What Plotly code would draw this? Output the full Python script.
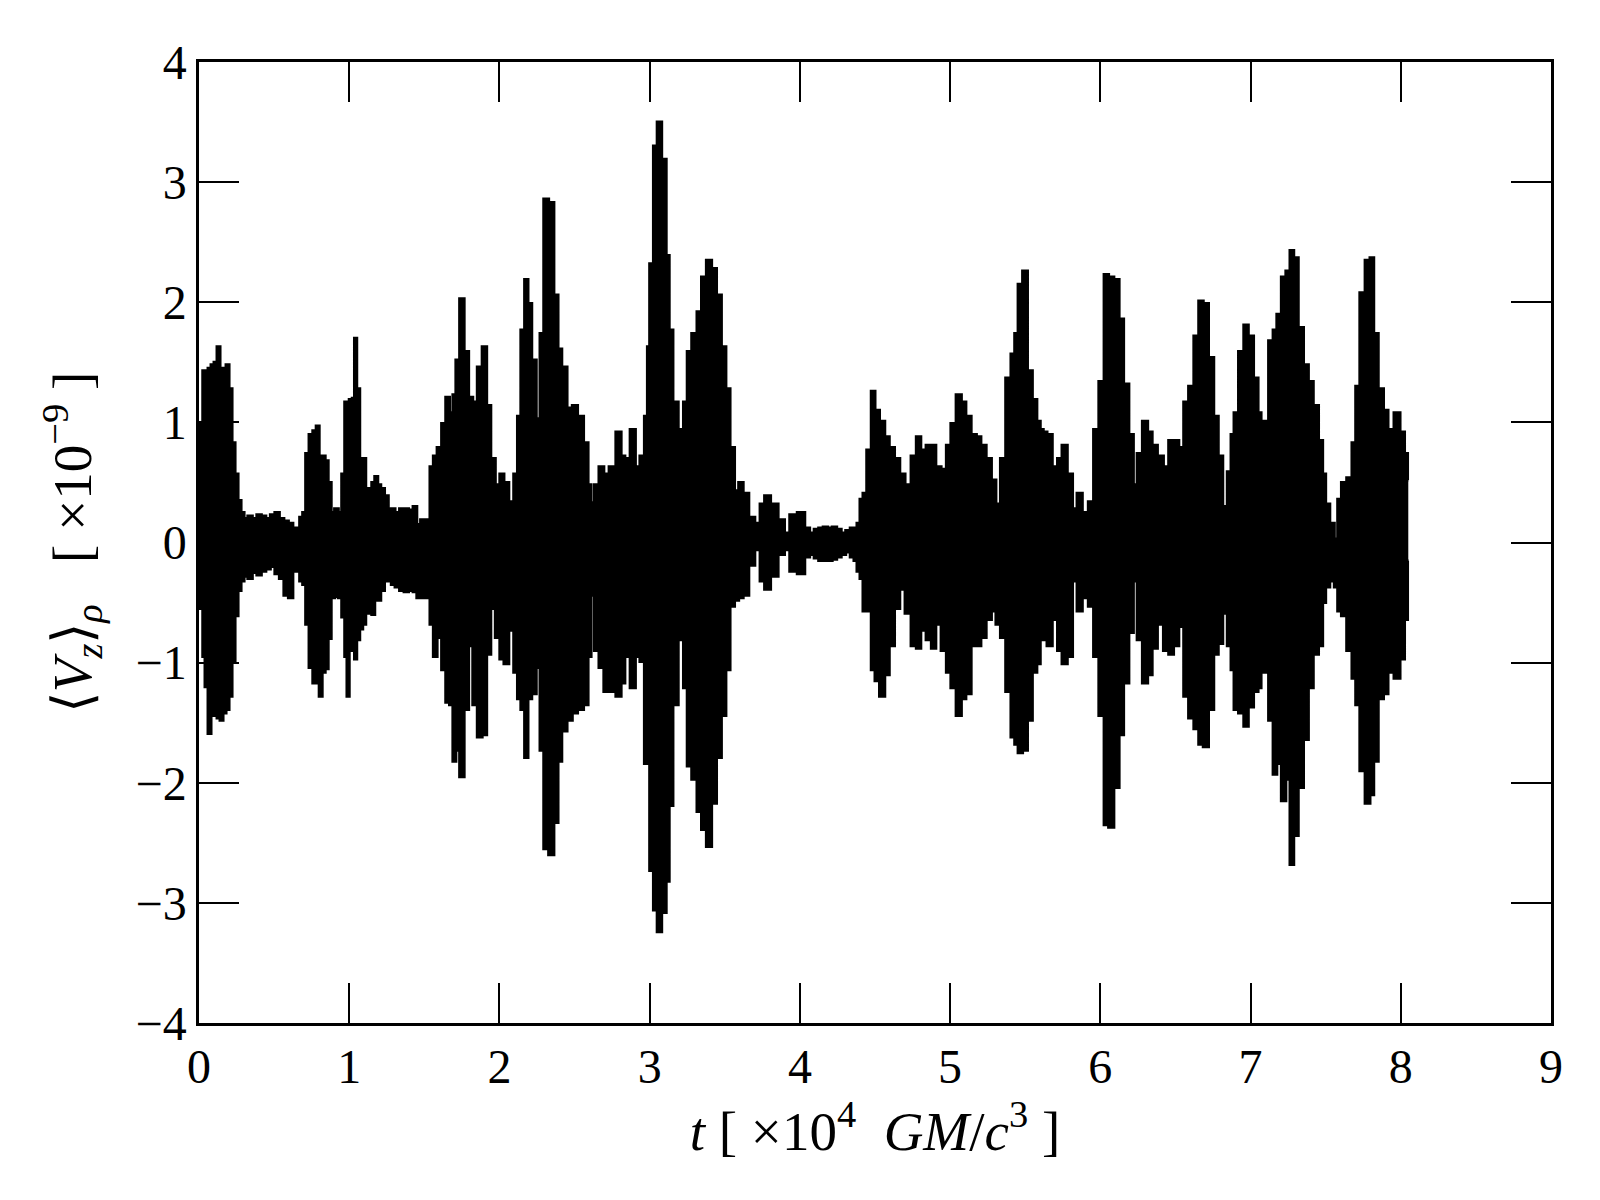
import plotly.graph_objects as go

# time in units of 1e4 GM/c^3; envelope of <V_z>_rho in units of 1e-9
t_vals = [
    0.00, 0.02, 0.03, 0.05, 0.07, 0.09, 0.11, 0.13, 0.15, 0.17, 0.19, 0.21, 0.23, 0.25, 0.27, 0.29,
    0.31, 0.34, 0.37, 0.40, 0.43, 0.46, 0.49, 0.52, 0.55, 0.58, 0.61, 0.64, 0.66, 0.68, 0.70,
    0.72, 0.745, 0.77, 0.79, 0.81, 0.83, 0.85, 0.87, 0.89, 0.915, 0.94, 0.96, 0.98, 0.99,
    1.01, 1.03, 1.04, 1.06, 1.08, 1.10, 1.12, 1.14, 1.16, 1.18, 1.20, 1.22, 1.25, 1.27, 1.29,
    1.32, 1.35, 1.38, 1.41, 1.44, 1.46, 1.49, 1.525, 1.55, 1.57, 1.60, 1.63, 1.655, 1.68, 1.70,
    1.72, 1.75, 1.78, 1.81, 1.835, 1.87, 1.90, 1.93, 1.955, 1.99, 2.015, 2.045, 2.08, 2.11, 2.13,
    2.155, 2.18, 2.20, 2.23, 2.26, 2.28, 2.31, 2.345, 2.38, 2.40, 2.43, 2.47, 2.50, 2.54, 2.58,
    2.60, 2.62, 2.645, 2.68, 2.71, 2.75, 2.80, 2.82, 2.85, 2.89, 2.92, 2.95, 2.98, 2.99, 3.01,
    3.04, 3.06, 3.10, 3.12, 3.14, 3.17, 3.21, 3.24, 3.26, 3.30, 3.33, 3.36, 3.395, 3.43, 3.46,
    3.495, 3.52, 3.55, 3.58, 3.605, 3.64, 3.68, 3.72, 3.75, 3.78, 3.83, 3.88, 3.915, 3.95, 4.015,
    4.05, 4.08, 4.11, 4.14, 4.17, 4.20, 4.23, 4.26, 4.29, 4.32, 4.35, 4.37, 4.39, 4.41, 4.43,
    4.46, 4.49, 4.51, 4.55, 4.58, 4.61, 4.65, 4.68, 4.72, 4.76, 4.79, 4.82, 4.86, 4.89, 4.92,
    4.96, 4.99, 5.02, 5.06, 5.09, 5.12, 5.16, 5.19, 5.22, 5.26, 5.29, 5.32, 5.35, 5.39, 5.42,
    5.44, 5.465, 5.50, 5.53, 5.565, 5.59, 5.61, 5.63, 5.66, 5.70, 5.73, 5.76, 5.80, 5.83, 5.86,
    5.90, 5.94, 5.97, 6.01, 6.04, 6.07, 6.11, 6.14, 6.17, 6.21, 6.23, 6.26, 6.30, 6.33, 6.36,
    6.40, 6.44, 6.47, 6.505, 6.54, 6.57, 6.605, 6.64, 6.67, 6.70, 6.74, 6.77, 6.80, 6.83, 6.86,
    6.88, 6.90, 6.94, 6.97, 7.00, 7.04, 7.06, 7.08, 7.10, 7.14, 7.16, 7.19, 7.22, 7.25, 7.275,
    7.30, 7.335, 7.37, 7.40, 7.435, 7.47, 7.49, 7.51, 7.545, 7.57, 7.59, 7.62, 7.66, 7.69, 7.71,
    7.745, 7.78, 7.81, 7.83, 7.87, 7.90, 7.93, 7.98, 8.01, 8.04, 8.05,
]
upper_vals = [
    0.83, 1.00, 1.43, 1.43, 1.45, 1.48, 1.50, 1.63, 1.41, 1.45, 1.48, 1.28, 0.83, 0.57, 0.35, 0.25,
    0.20, 0.22, 0.20, 0.23, 0.22, 0.20, 0.23, 0.25, 0.20, 0.18, 0.16, 0.12, 0.10, 0.21, 0.25,
    0.74, 0.90, 0.93, 0.97, 0.70, 0.72, 0.68, 0.50, 0.25, 0.28, 0.25, 0.57, 1.17, 0.90,
    1.19, 1.20, 1.70, 1.28, 0.70, 0.70, 0.23, 0.45, 0.50, 0.55, 0.48, 0.45, 0.39, 0.10, 0.28,
    0.25, 0.28, 0.28, 0.27, 0.30, 0.15, 0.19, 0.19, 0.63, 0.72, 0.79, 0.99, 1.21, 1.08, 1.23,
    1.52, 2.03, 1.59, 1.21, 1.17, 1.46, 1.63, 1.14, 0.70, 0.48, 0.57, 0.50, 0.34, 0.57, 1.05,
    1.77, 2.19, 1.99, 1.52, 1.03, 1.74, 2.86, 2.83, 2.06, 1.61, 1.46, 1.12, 1.14, 1.05, 0.83,
    0.48, 0.33, 0.48, 0.63, 0.57, 0.63, 0.92, 0.72, 0.70, 0.94, 0.63, 0.72, 1.05, 1.63, 2.32,
    3.30, 3.50, 3.19, 2.39, 1.77, 1.17, 0.94, 1.17, 1.59, 1.74, 1.92, 2.21, 2.35, 2.28, 2.06,
    1.63, 1.28, 0.79, 0.43, 0.50, 0.41, 0.21, 0.16, 0.32, 0.39, 0.32, 0.19, 0.08, 0.23, 0.25,
    0.12, 0.08, 0.11, 0.12, 0.13, 0.12, 0.13, 0.11, 0.08, 0.10, 0.12, 0.12, 0.16, 0.36, 0.41,
    0.77, 1.26, 1.10, 1.01, 0.88, 0.79, 0.70, 0.57, 0.48, 0.72, 0.88, 0.77, 0.81, 0.81, 0.63,
    0.61, 0.81, 0.99, 1.23, 1.17, 1.05, 0.90, 0.88, 0.81, 0.70, 0.52, 0.32, 0.70, 1.37, 1.57,
    1.74, 2.15, 2.26, 1.43, 1.19, 1.01, 0.94, 0.92, 0.90, 0.63, 0.70, 0.81, 0.57, 0.28, 0.41,
    0.25, 0.34, 0.94, 1.34, 2.23, 2.21, 2.19, 1.86, 1.32, 0.90, 0.48, 0.74, 1.01, 0.92, 0.81,
    0.72, 0.63, 0.85, 0.85, 0.79, 1.17, 1.30, 1.72, 2.01, 1.99, 1.54, 1.05, 0.72, 0.30, 0.59,
    0.90, 1.08, 1.59, 1.81, 1.72, 1.37, 1.08, 0.36, 1.01, 1.68, 1.77, 1.90, 2.21, 2.26, 2.43,
    2.37, 1.79, 1.48, 1.34, 1.14, 0.85, 0.57, 0.32, 0.16, 0.03, 0.36, 0.50, 0.54, 0.83, 1.30,
    2.08, 2.35, 2.37, 1.74, 1.28, 1.10, 0.94, 1.08, 0.92, 0.74, 0.52,
]
lower_vals = [
    -0.32, -0.55, -0.95, -1.20, -1.59, -1.40, -1.44, -1.46, -1.48, -1.42, -1.39, -1.28, -0.99, -0.61, -0.40, -0.32,
    -0.28, -0.30, -0.25, -0.27, -0.24, -0.22, -0.20, -0.26, -0.30, -0.44, -0.46, -0.24, -0.19, -0.32, -0.35,
    -0.68, -1.04, -1.17, -1.10, -1.28, -1.08, -1.05, -0.80, -0.46, -0.45, -0.46, -0.62, -0.95, -1.28,
    -0.90, -0.90, -0.97, -0.81, -0.72, -0.68, -0.46, -0.59, -0.60, -0.46, -0.48, -0.40, -0.32, -0.28, -0.35,
    -0.37, -0.40, -0.41, -0.40, -0.41, -0.46, -0.46, -0.46, -0.68, -0.95, -0.79, -1.06, -1.33, -1.35, -1.82,
    -1.73, -1.95, -1.39, -0.86, -1.35, -1.62, -1.60, -0.93, -0.55, -0.79, -0.97, -1.01, -0.73, -1.08, -1.30,
    -1.39, -1.79, -1.30, -1.26, -1.04, -1.73, -2.55, -2.60, -2.33, -1.82, -1.57, -1.48, -1.42, -1.39, -1.35,
    -0.95, -0.44, -0.90, -1.04, -1.24, -1.24, -1.28, -1.17, -0.95, -1.21, -0.95, -0.99, -1.84, -1.84, -2.73,
    -3.06, -3.24, -3.08, -2.82, -2.19, -1.35, -0.81, -1.21, -1.86, -1.97, -2.24, -2.39, -2.53, -2.17, -1.79,
    -1.44, -1.06, -0.53, -0.48, -0.46, -0.44, -0.19, -0.06, -0.32, -0.39, -0.28, -0.10, -0.06, -0.24, -0.26,
    -0.12, -0.10, -0.13, -0.15, -0.15, -0.15, -0.14, -0.12, -0.10, -0.08, -0.12, -0.15, -0.24, -0.30, -0.57,
    -0.57, -1.06, -1.15, -1.28, -1.10, -0.86, -0.55, -0.39, -0.59, -0.86, -0.88, -0.73, -0.81, -0.88, -0.68,
    -0.90, -1.08, -1.21, -1.44, -1.30, -1.26, -0.86, -0.86, -0.79, -0.64, -0.57, -0.68, -0.79, -1.24, -1.62,
    -1.68, -1.75, -1.73, -1.48, -1.08, -1.01, -0.66, -0.81, -0.86, -0.64, -0.90, -1.01, -0.95, -0.32, -0.57,
    -0.46, -0.53, -0.95, -1.44, -2.35, -2.37, -2.04, -1.60, -1.17, -0.75, -0.32, -0.81, -1.17, -1.10, -0.88,
    -0.68, -0.90, -0.93, -0.86, -0.70, -1.28, -1.46, -1.55, -1.68, -1.70, -1.39, -0.93, -0.84, -0.59, -0.86,
    -1.06, -1.39, -1.42, -1.53, -1.37, -1.24, -1.21, -0.59, -1.08, -1.48, -1.93, -1.84, -2.15, -1.97, -2.68,
    -2.44, -2.04, -1.64, -1.21, -0.93, -0.86, -0.50, -0.37, -0.32, -0.37, -0.57, -0.61, -0.90, -1.13, -1.35,
    -1.90, -2.17, -2.10, -1.82, -1.30, -1.26, -1.08, -1.13, -0.97, -0.64, -0.15,
]

x_ticks = [0, 1, 2, 3, 4, 5, 6, 7, 8, 9]
y_ticks = [-4, -3, -2, -1, 0, 1, 2, 3, 4]
x_title = "<i>t</i>\u00a0[\u00a0×10<sup>4</sup>\u00a0\u00a0<i>GM</i>/<i>c</i><sup>3</sup>\u00a0]"
y_title = "⟨<i>V</i><sub><i>z</i></sub>⟩<sub><i>ρ</i></sub>\u00a0\u00a0\u00a0[\u00a0×10<sup>−9</sup>\u00a0]"

fig = go.Figure()
fig.add_trace(go.Scatter(
    x=t_vals, y=lower_vals, mode="lines",
    line=dict(color="black", width=3, shape="hvh"),
    showlegend=False, hoverinfo="skip",
))
fig.add_trace(go.Scatter(
    x=t_vals, y=upper_vals, mode="lines",
    line=dict(color="black", width=3, shape="hvh"),
    fill="tonexty", fillcolor="black",
    showlegend=False, hoverinfo="skip",
))

axis_common = dict(
    ticks="inside", ticklen=40, tickwidth=1.5, tickcolor="black",
    showline=True, linewidth=2.5, linecolor="black", mirror="ticks",
    showgrid=False, zeroline=False,
    tickfont=dict(family="Liberation Serif", size=48, color="black"),
)
fig.update_xaxes(
    range=[0, 9], tickmode="array", tickvals=x_ticks,
    ticktext=[str(v) for v in x_ticks],
    title=dict(text=x_title, font=dict(family="Liberation Serif", size=55, color="black"), standoff=18),
    **axis_common,
)
fig.update_yaxes(
    range=[-4, 4], tickmode="array", tickvals=y_ticks,
    ticktext=[str(v).replace("-", "\u2212") for v in y_ticks],
    title=dict(text=y_title, font=dict(family="Liberation Serif", size=55, color="black"), standoff=27),
    **axis_common,
)
fig.update_layout(
    width=1600, height=1200,
    margin=dict(l=199, r=49, t=62, b=177, autoexpand=False),
    paper_bgcolor="white", plot_bgcolor="white",
    font=dict(family="Liberation Serif", color="black"),
    showlegend=False,
)

fig.write_html("out.html", config={"displayModeBar": False},
               post_script="document.body.style.margin='0';")
